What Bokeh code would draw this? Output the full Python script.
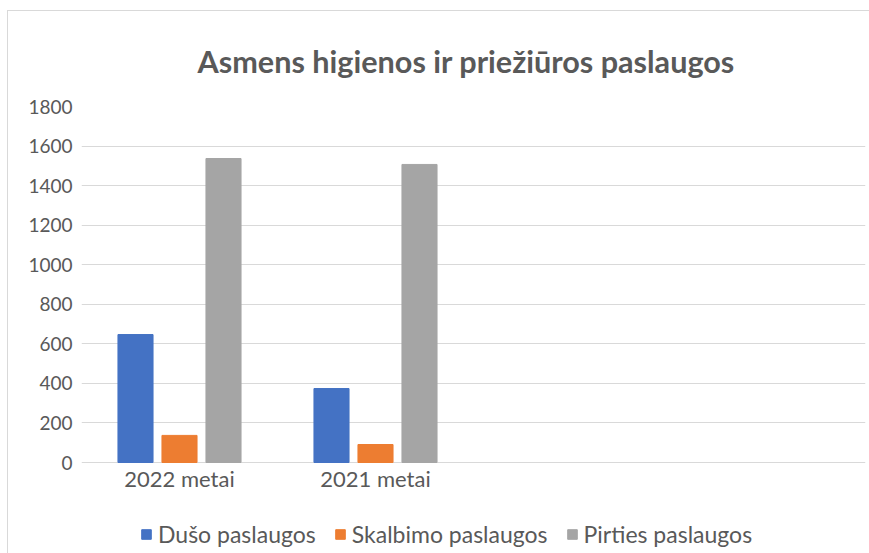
from bokeh.plotting import figure
from bokeh.models import ColumnDataSource, FactorRange, FixedTicker, Legend, LegendItem
from bokeh.core.properties import value
from bokeh.transform import dodge
from bokeh.embed import file_html
from bokeh.resources import INLINE

categories = ["2022 metai", "2021 metai"]
blank_categories = ["", " "]
dusas = [647, 374]
skalbimas = [137, 91]
pirtis = [1537, 1507]
series_names = ["Dušo paslaugos", "Skalbimo paslaugos", "Pirties paslaugos"]
colors = ["#4472C4", "#ED7D31", "#A5A5A5"]
y_ticks = [0, 200, 400, 600, 800, 1000, 1200, 1400, 1600, 1800]
y_max = 1800

# layout: plot area of 356px for 0..1800, extended 91px below zero for labels and legend
plot_px = 356
below_px = 91
y_min = -below_px * y_max / plot_px

src = ColumnDataSource(dict(cat=categories, d=dusas, s=skalbimas, p=pirtis,
                            zero=[0] * len(categories)))

p = figure(
    x_range=FactorRange(factors=categories + blank_categories, range_padding=0),
    y_range=(y_min, y_max),
    frame_width=784, frame_height=plot_px + below_px,
    min_border_left=81, min_border_right=4, min_border_top=106, min_border_bottom=0,
    x_axis_location=None,
    output_backend="svg", toolbar_location=None,
    title="Asmens higienos ir priežiūros paslaugos",
)
p.styles = {
    "background": "linear-gradient(#d9d9d9,#d9d9d9) 7px 10px / 1px 100% no-repeat, "
                  "linear-gradient(#d9d9d9,#d9d9d9) 7px 10px / 100% 1px no-repeat",
}
p.border_fill_color = None
p.background_fill_color = None
p.outline_line_color = None

bw = 0.179
r1 = p.vbar(x=dodge("cat", -0.2245, range=p.x_range), top="d", width=bw, source=src, color=colors[0])
r2 = p.vbar(x=dodge("cat", 0.0, range=p.x_range), top="s", width=bw, source=src, color=colors[1])
r3 = p.vbar(x=dodge("cat", 0.2245, range=p.x_range), top="p", width=bw, source=src, color=colors[2])

# category labels under the zero line
p.text(x="cat", y="zero", text="cat", source=src, text_align="center", text_baseline="middle",
       y_offset=16, text_font=value("Lato"), text_font_size="22px", text_color="#595959")

p.title.align = "left"
p.title.offset = 116
p.title.text_font = "Lato"
p.title.text_font_size = "30.6px"
p.title.text_font_style = "bold"
p.title.text_color = "#595959"
p.title.standoff = 54

p.xgrid.grid_line_color = None
p.ygrid.ticker = FixedTicker(ticks=y_ticks)
p.ygrid.grid_line_color = "#d9d9d9"
p.ygrid.grid_line_width = 1
p.yaxis.ticker = FixedTicker(ticks=y_ticks)
p.yaxis.axis_line_color = None
p.yaxis.major_tick_line_color = None
p.yaxis.minor_tick_line_color = None
p.yaxis.major_tick_out = 0
p.yaxis.major_label_standoff = 9
p.yaxis.major_label_text_font = "Lato"
p.yaxis.major_label_text_font_size = "19px"
p.yaxis.major_label_text_color = "#595959"

legend = Legend(
    items=[LegendItem(label=n, renderers=[r]) for n, r in zip(series_names, [r1, r2, r3])],
    orientation="horizontal", location=(59, 5),
    padding=0, margin=0, spacing=18, label_standoff=6, label_height=22,
    glyph_width=12, glyph_height=12,
    label_text_font="Lato", label_text_font_size="23px", label_text_color="#595959",
    border_line_color=None, background_fill_color=None,
)
p.add_layout(legend, "center")

open("out.html", "w").write(file_html(p, INLINE))
